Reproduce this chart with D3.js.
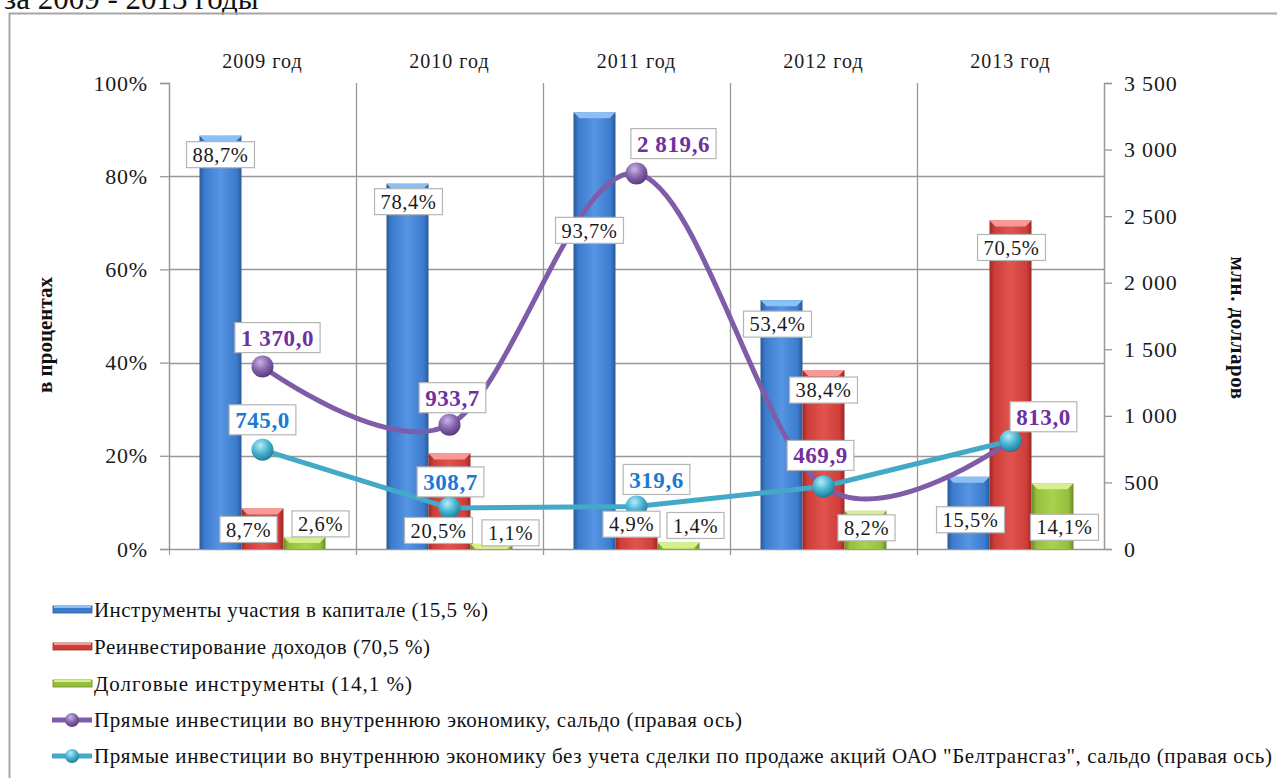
<!DOCTYPE html>
<html>
<head>
<meta charset="utf-8">
<script src="https://cdn.jsdelivr.net/npm/d3@7"></script>
<style>
body{margin:0;background:#fff;}
svg{display:block;}
text{font-family:"Liberation Serif","Times New Roman",serif;}
</style>
</head>
<body>
<svg id="chart" width="1277" height="778"></svg>
<script>
// data
var years = ['2009 год', '2010 год', '2011 год', '2012 год', '2013 год'];
var equity = [88.7, 78.4, 93.7, 53.4, 15.5];     // Инструменты участия в капитале, %
var reinvest = [8.7, 20.5, 4.9, 38.4, 70.5];     // Реинвестирование доходов, %
var debt = [2.6, 1.1, 1.4, 8.2, 14.1];           // Долговые инструменты, %
var fdiTotal = [1370.0, 933.7, 2819.6, 469.9, 813.0];  // сальдо, млн. долларов
var fdiNoBtg = [745.0, 308.7, 319.6, 469.9, 813.0];    // без сделки Белтрансгаз
var pctTicks = [0, 20, 40, 60, 80, 100];
var usdTicks = [0, 500, 1000, 1500, 2000, 2500, 3000, 3500];
var legendNames = [
    'Инструменты участия в капитале (15,5 %)',
    'Реинвестирование доходов (70,5 %)',
    'Долговые инструменты (14,1 %)',
    'Прямые инвестиции во внутреннюю экономику, сальдо (правая ось)',
    'Прямые инвестиции во внутреннюю экономику без учета сделки по продаже акций ОАО "Белтрансгаз", сальдо (правая ось)'
];
// end data

// label nudges (label centre relative to bar top / marker), hand placed like the original
var barNudge = {
    equity:   [[0, 19], [1, 18], [-5, 118], [-4, 24], [2, 43]],
    reinvest: [[-14, 21], [-11, 77], [-5, -2], [0, 20], [1, 27]],
    debt:     [[16, -13], [19, -11], [17, -17], [1, 17], [12, 44]]
};
var totalNudge = [[15, -29], [3, -27], [37, -30], [-3, -31], [33, -24]];
var noBtgNudge = [[0, -30], [1, -26], [20, -27]];

var svg = d3.select('#chart');
var defs = svg.append('defs');

var plotL = 169, plotR = 1104, plotT = 83, plotB = 549;

var x = d3.scaleBand().domain(years).range([plotL, plotR]);
var series = [
    {key: 'equity', values: equity, dark: '#2b5a96', mid: '#3d7bcf', light: '#5595e2', bevel: '#8cc0f4'},
    {key: 'reinvest', values: reinvest, dark: '#9c2826', mid: '#cf3d39', light: '#e0544f', bevel: '#f59a94'},
    {key: 'debt', values: debt, dark: '#6c8a26', mid: '#94be3c', light: '#aad24e', bevel: '#d8ef8e'}
];
var xs = d3.scaleBand().domain(series.map(function(s){ return s.key; }))
    .range([0, x.bandwidth()]).paddingInner(0).paddingOuter(0.726);
var yPct = d3.scaleLinear().domain([0, 100]).range([plotB, plotT]);
var yUsd = d3.scaleLinear().domain([0, 3500]).range([plotB, plotT]);

var ru = d3.formatLocale({decimal: ',', thousands: ' ', grouping: [3], currency: ['', '']});
var fmtUsd = ru.format(',.1f');
var fmtPct = function(v){ return ru.format('.1f')(v) + '%'; };
var fmtTick = ru.format(',');

// gradients
series.forEach(function(s){
    var g = defs.append('linearGradient').attr('id', 'g-' + s.key)
        .attr('x1', 0).attr('x2', 1).attr('y1', 0).attr('y2', 0);
    g.append('stop').attr('offset', '0%').attr('stop-color', s.dark);
    g.append('stop').attr('offset', '12%').attr('stop-color', s.mid);
    g.append('stop').attr('offset', '50%').attr('stop-color', s.light);
    g.append('stop').attr('offset', '88%').attr('stop-color', s.mid);
    g.append('stop').attr('offset', '100%').attr('stop-color', s.dark);
});
function ballGrad(id, hi, base, edge){
    var g = defs.append('radialGradient').attr('id', id)
        .attr('cx', '40%').attr('cy', '30%').attr('r', '70%');
    g.append('stop').attr('offset', '0%').attr('stop-color', hi);
    g.append('stop').attr('offset', '55%').attr('stop-color', base);
    g.append('stop').attr('offset', '100%').attr('stop-color', edge);
}
ballGrad('ball-purple', '#c9b4e6', '#8565ab', '#583b7c');
ballGrad('ball-cyan', '#b5ecfa', '#45b3d1', '#237d98');

// title remnant and outer frame
svg.append('text').attr('x', 4).attr('y', 9).attr('font-size', 31).attr('fill', '#111')
    .text('за 2009 - 2013 годы');
svg.append('path').attr('d', 'M9.5,790 V13.5 H1290')
    .attr('fill', 'none').attr('stroke', '#a6a6a6').attr('stroke-width', 2);

// grid
var grid = svg.append('g').attr('stroke', '#999').attr('stroke-width', 1.3);
grid.selectAll('line.h').data(pctTicks.filter(function(d){ return d > 0 && d < 100; }))
    .enter().append('line')
    .attr('x1', plotL).attr('x2', plotR)
    .attr('y1', function(d){ return Math.round(yPct(d)) + 0.5; })
    .attr('y2', function(d){ return Math.round(yPct(d)) + 0.5; });
grid.selectAll('line.v').data(years.slice(1))
    .enter().append('line')
    .attr('x1', function(d){ return Math.round(x(d)) + 0.5; })
    .attr('x2', function(d){ return Math.round(x(d)) + 0.5; })
    .attr('y1', plotT).attr('y2', plotB + 6);

// axes
var axL = svg.append('g').attr('transform', 'translate(' + plotL + ',0)')
    .call(d3.axisLeft(yPct).tickValues(pctTicks).tickFormat(function(d){ return d + '%'; })
        .tickSize(9).tickPadding(12));
var axR = svg.append('g').attr('transform', 'translate(' + plotR + ',0)')
    .call(d3.axisRight(yUsd).tickValues(usdTicks).tickFormat(fmtTick)
        .tickSize(8).tickPadding(12));
[axL, axR].forEach(function(ax){
    ax.select('.domain').attr('stroke', '#999').attr('stroke-width', 1.5);
    ax.selectAll('.tick line').attr('stroke', '#999').attr('stroke-width', 1.3);
    ax.selectAll('.tick text').attr('font-size', 22).attr('letter-spacing', 0.8)
        .attr('fill', '#1a1a1a');
});
// baseline
svg.append('line').attr('x1', plotL).attr('x2', plotR)
    .attr('y1', plotB + 0.5).attr('y2', plotB + 0.5)
    .attr('stroke', '#999').attr('stroke-width', 1.5);
svg.append('line').attr('x1', plotL + 0.5).attr('x2', plotL + 0.5)
    .attr('y1', plotB).attr('y2', plotB + 6).attr('stroke', '#999');

// category labels on top
svg.selectAll('text.year').data(years).enter().append('text')
    .attr('class', 'year')
    .attr('x', function(d){ return x(d) + x.bandwidth() / 2; })
    .attr('y', 68).attr('text-anchor', 'middle')
    .attr('font-size', 20).attr('letter-spacing', 1)
    .attr('fill', '#1a1a1a')
    .text(function(d){ return d; });

// axis titles
svg.append('text').attr('transform', 'translate(52,335) rotate(-90)')
    .attr('text-anchor', 'middle').attr('font-size', 21).attr('font-weight', 'bold')
    .attr('fill', '#111').text('в процентах');
svg.append('text').attr('transform', 'translate(1231,328) rotate(90)')
    .attr('text-anchor', 'middle').attr('font-size', 21).attr('font-weight', 'bold')
    .attr('letter-spacing', 0.5)
    .attr('fill', '#111').text('млн. долларов');

// bars
series.forEach(function(s){
    var g = svg.append('g');
    s.values.forEach(function(v, i){
        var bx = x(years[i]) + xs(s.key), bw = xs.bandwidth();
        var by = yPct(v), bh = plotB - by;
        g.append('rect').attr('x', bx).attr('y', by).attr('width', bw).attr('height', bh)
            .attr('fill', 'url(#g-' + s.key + ')');
        var b = Math.min(6, bh);
        g.append('path')
            .attr('d', 'M' + bx + ',' + by + 'H' + (bx + bw) + 'L' + (bx + bw - b) + ',' + (by + b) +
                'H' + (bx + b) + 'Z')
            .attr('fill', s.bevel);
    });
});

// lines
var lineTotal = d3.line()
    .x(function(d, i){ return x(years[i]) + x.bandwidth() / 2; })
    .y(function(d){ return yUsd(d); })
    .curve(d3.curveCatmullRom.alpha(0));
var lineNoBtg = d3.line()
    .x(function(d, i){ return x(years[i]) + x.bandwidth() / 2; })
    .y(function(d){ return yUsd(d); });

svg.append('path').datum(fdiTotal).attr('d', lineTotal)
    .attr('fill', 'none').attr('stroke', '#7f5ca8').attr('stroke-width', 5);
svg.append('path').datum(fdiNoBtg).attr('d', lineNoBtg)
    .attr('fill', 'none').attr('stroke', '#42a9c6').attr('stroke-width', 5);

function markers(data, grad){
    svg.append('g').selectAll('circle').data(data).enter().append('circle')
        .attr('cx', function(d, i){ return x(years[i]) + x.bandwidth() / 2; })
        .attr('cy', function(d){ return yUsd(d); })
        .attr('r', 11).attr('fill', 'url(#' + grad + ')');
}
markers(fdiTotal, 'ball-purple');
markers(fdiNoBtg, 'ball-cyan');

// labels
var labels = svg.append('g');
function boxLabel(cx, cy, txt, size, weight, color, padX, h, ls){
    var g = labels.append('g').attr('transform', 'translate(' + cx + ',' + cy + ')');
    var rect = g.append('rect');
    var t = g.append('text').attr('text-anchor', 'middle').attr('dy', '0.35em')
        .attr('font-size', size).attr('font-weight', weight).attr('fill', color)
        .attr('letter-spacing', ls).text(txt);
    var w = t.node().getBBox().width + padX * 2;
    rect.attr('x', -w / 2).attr('y', -h / 2).attr('width', w).attr('height', h)
        .attr('fill', '#fff').attr('stroke', '#b5b5b5').attr('stroke-width', 1.2);
}
series.forEach(function(s){
    s.values.forEach(function(v, i){
        var n = barNudge[s.key][i];
        var cx = x(years[i]) + xs(s.key) + xs.bandwidth() / 2 + n[0];
        boxLabel(cx, yPct(v) + n[1], fmtPct(v), 20.5, 'normal', '#1a1a1a', 6, 26, 0.6);
    });
});
fdiTotal.forEach(function(v, i){
    var n = totalNudge[i];
    boxLabel(x(years[i]) + x.bandwidth() / 2 + n[0], yUsd(v) + n[1], fmtUsd(v),
        23, 'bold', '#7030a0', 6, 30, 0.6);
});
fdiNoBtg.slice(0, 3).forEach(function(v, i){
    var n = noBtgNudge[i];
    boxLabel(x(years[i]) + x.bandwidth() / 2 + n[0], yUsd(v) + n[1], fmtUsd(v),
        23, 'bold', '#1a7ad4', 6, 30, 0.6);
});

// legend
var legY = [610, 647, 684, 720, 756];
var legEnd = [488, 430, 412, 742, 1272];
var legend = svg.append('g');
legendNames.forEach(function(name, i){
    var y = legY[i];
    if (i < 3) {
        var s = series[i];
        legend.append('rect').attr('x', 53).attr('y', y - 4).attr('width', 39).attr('height', 7)
            .attr('fill', s.mid).attr('stroke', s.dark).attr('stroke-width', 0.8);
        legend.append('rect').attr('x', 54).attr('y', y - 4).attr('width', 37).attr('height', 2)
            .attr('fill', s.bevel);
    } else {
        var col = i === 3 ? '#7f5ca8' : '#42a9c6';
        legend.append('line').attr('x1', 52).attr('x2', 92).attr('y1', y).attr('y2', y)
            .attr('stroke', col).attr('stroke-width', 5);
        legend.append('circle').attr('cx', 72).attr('cy', y).attr('r', 7)
            .attr('fill', 'url(#' + (i === 3 ? 'ball-purple' : 'ball-cyan') + ')');
    }
    legend.append('text').attr('x', 94).attr('y', y).attr('dy', '0.35em')
        .attr('font-size', 21).attr('fill', '#111')
        .attr('textLength', legEnd[i] - 94).attr('lengthAdjust', 'spacing')
        .text(name);
});
</script>
</body>
</html>
